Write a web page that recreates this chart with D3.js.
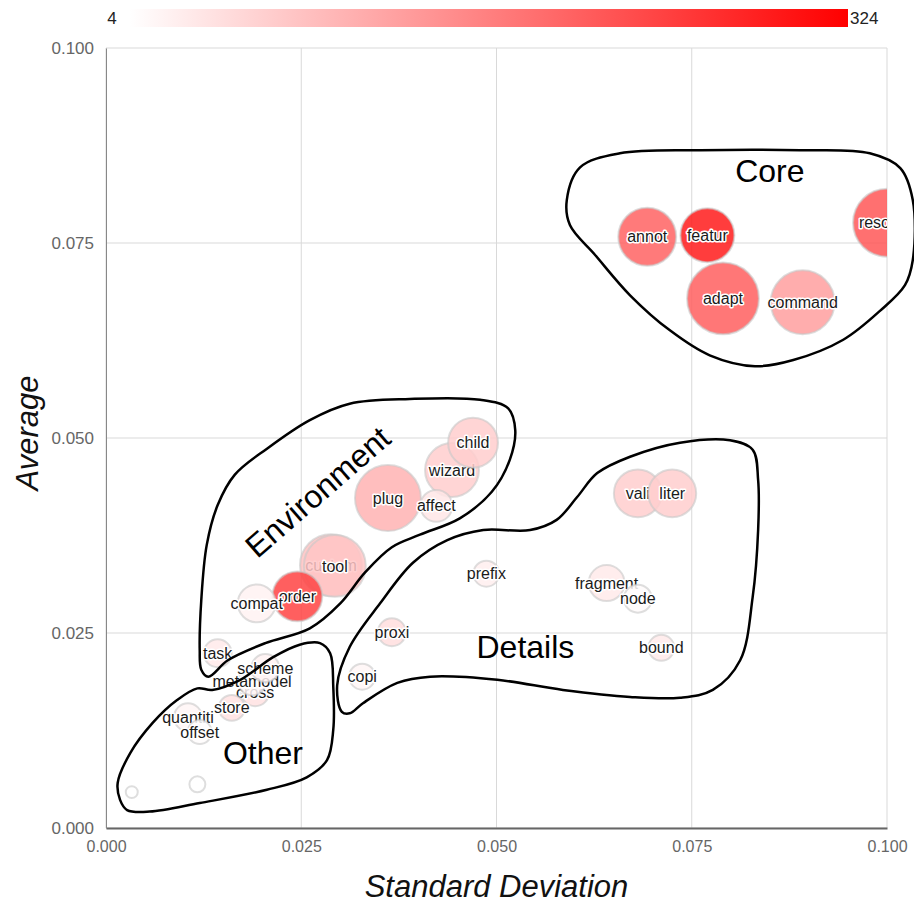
<!DOCTYPE html>
<html><head><meta charset="utf-8">
<script src="https://cdn.jsdelivr.net/npm/d3@7"></script>
<style>body{margin:0;background:#fff}svg{display:block;font-family:"Liberation Sans",Arial,sans-serif}</style>
</head><body><svg id="c" width="914" height="903"></svg>
<script>
// ---- data ----
const labels   = ["reso","annot","featur","adapt","command","wizard","child","plug","affect","custom","tool","order","compat","prefix","proxi","vali","liter","fragment","node","bound","copi","task","cross","metamodel","scheme","store","quantiti","offset","",""];
const stdDev   = [0.1000,0.0693,0.0770,0.0790,0.0892,0.0443,0.0470,0.0361,0.0423,0.0288,0.0293,0.0245,0.0193,0.0487,0.0366,0.0681,0.0725,0.0641,0.0681,0.0711,0.0328,0.0143,0.0191,0.0187,0.0204,0.0161,0.0105,0.0120,0.0117,0.0033];
const average  = [0.0776,0.0758,0.0760,0.0679,0.0674,0.0459,0.0494,0.0423,0.0413,0.0337,0.0336,0.0297,0.0288,0.0326,0.0251,0.0429,0.0429,0.0314,0.0294,0.0231,0.0194,0.0224,0.0174,0.0188,0.0205,0.0154,0.0142,0.0123,0.0056,0.0046];
const counts   = [215,200,290,205,125,65,65,100,35,80,75,240,20,25,45,65,65,30,8,30,15,30,40,15,20,40,15,6,4,4];
const sizes    = [1156,841,729,1296,1024,729,625,1089,256,961,961,625,361,169,196,576,576,324,196,169,169,196,196,196,196,169,196,144,64,36];
const xTicks   = [0,0.025,0.05,0.075,0.1];
const yTicks   = [0,0.025,0.05,0.075,0.1];
const colorDomain = [4,324];

const groupNames = ["Core","Environment","Details","Other"];
const groupLabelPos = [[0.0850,0.0842],[0.0271,0.0431],[0.0537,0.0232],[0.0201,0.0097]];
const coreOutline = [[0.0590,0.0805],[0.0607,0.0847],[0.0658,0.0865],[0.0761,0.0869],[0.0889,0.0869],[0.0978,0.0865],[0.1017,0.0846],[0.1033,0.0805],[0.1033,0.0728],[0.1023,0.0696],[0.0991,0.0663],[0.0944,0.0626],[0.0880,0.0600],[0.0831,0.0592],[0.0773,0.0606],[0.0722,0.0638],[0.0671,0.0683],[0.0626,0.0735],[0.0594,0.0773]];
const envOutline = [[0.0120,0.0228],[0.0122,0.0292],[0.0129,0.0363],[0.0143,0.0414],[0.0165,0.0453],[0.0207,0.0487],[0.0261,0.0523],[0.0312,0.0544],[0.0389,0.0550],[0.0479,0.0549],[0.0515,0.0538],[0.0524,0.0510],[0.0517,0.0472],[0.0494,0.0431],[0.0453,0.0397],[0.0402,0.0376],[0.0366,0.0360],[0.0332,0.0328],[0.0300,0.0288],[0.0261,0.0256],[0.0204,0.0237],[0.0156,0.0215],[0.0131,0.0194],[0.0122,0.0203]];
const detOutline = [[0.0302,0.0149],[0.0296,0.0183],[0.0312,0.0232],[0.0351,0.0288],[0.0393,0.0340],[0.0437,0.0369],[0.0483,0.0382],[0.0543,0.0382],[0.0577,0.0395],[0.0603,0.0424],[0.0629,0.0455],[0.0671,0.0476],[0.0735,0.0494],[0.0799,0.0497],[0.0828,0.0485],[0.0835,0.0446],[0.0835,0.0382],[0.0828,0.0296],[0.0812,0.0215],[0.0777,0.0177],[0.0735,0.0167],[0.0671,0.0168],[0.0585,0.0177],[0.0501,0.0190],[0.0415,0.0194],[0.0373,0.0186],[0.0329,0.0160],[0.0312,0.0147]];
const othOutline = [[0.0018,0.0036],[0.0015,0.0058],[0.0031,0.0096],[0.0060,0.0135],[0.0091,0.0164],[0.0117,0.0179],[0.0136,0.0177],[0.0172,0.0190],[0.0214,0.0219],[0.0248,0.0235],[0.0274,0.0237],[0.0287,0.0224],[0.0291,0.0181],[0.0291,0.0126],[0.0283,0.0087],[0.0257,0.0065],[0.0206,0.0049],[0.0120,0.0032],[0.0056,0.0021],[0.0027,0.0023]];
const outlines = [coreOutline, envOutline, detOutline, othOutline];

// ---- layout ----
const svg = d3.select("#c");
const M = {l:106, r:887, t:48, b:828};
const x = d3.scaleLinear().domain([0,0.1]).range([M.l, M.r]);
const y = d3.scaleLinear().domain([0,0.1]).range([M.b, M.t]);
const r = d3.scaleSqrt().domain([0,1300]).range([0,36]);
const color = d3.scaleLinear().domain(colorDomain).range(["#ffffff","#ff0000"]);

// colorbar
const defs = svg.append("defs");
const grad = defs.append("linearGradient").attr("id","cb");
grad.append("stop").attr("offset","0%").attr("stop-color",color(colorDomain[0]));
grad.append("stop").attr("offset","100%").attr("stop-color",color(colorDomain[1]));
svg.append("rect").attr("x",130).attr("y",9).attr("width",718).attr("height",18).attr("fill","url(#cb)");
svg.append("text").attr("x",112).attr("y",24).attr("text-anchor","middle").attr("font-size",17).attr("fill","#222").text(colorDomain[0]);
svg.append("text").attr("x",850).attr("y",24).attr("font-size",17).attr("fill","#222").text(colorDomain[1]);

defs.append("clipPath").attr("id","plot").append("rect").attr("x",M.l).attr("y",M.t-40).attr("width",M.r-M.l).attr("height",M.b-M.t+40);

// grid
const g = svg.append("g");
g.selectAll(".gx").data(xTicks).join("line").attr("x1",d=>x(d)).attr("x2",d=>x(d)).attr("y1",M.t).attr("y2",M.b).attr("stroke","#d9d9d9");
g.selectAll(".gy").data(yTicks).join("line").attr("x1",M.l).attr("x2",M.r).attr("y1",d=>y(d)).attr("y2",d=>y(d)).attr("stroke","#d9d9d9");

// axes
const fmt = d3.format(".3f");
const xa = svg.append("g").attr("transform",`translate(0,${M.b})`).call(d3.axisBottom(x).tickValues(xTicks).tickFormat(fmt).tickSize(0).tickPadding(13));
const ya = svg.append("g").attr("transform",`translate(${M.l},0)`).call(d3.axisLeft(y).tickValues(yTicks).tickFormat(fmt).tickSize(0).tickPadding(12));
xa.selectAll("text").attr("font-size",16).attr("fill","#666").attr("font-family","'Liberation Sans',Arial,sans-serif");
ya.selectAll("text").attr("font-size",17).attr("fill","#666").attr("font-family","'Liberation Sans',Arial,sans-serif");
xa.select(".domain").attr("stroke","#666").attr("stroke-width",2);
ya.select(".domain").attr("stroke","#888").attr("stroke-width",1);

svg.append("text").attr("x",(M.l+M.r)/2).attr("y",897).attr("text-anchor","middle").attr("font-size",31).attr("font-style","italic").attr("fill","#111").text("Standard Deviation");
svg.append("text").attr("transform",`translate(38,${(M.t+M.b)/2 - 5}) rotate(-90)`).attr("text-anchor","middle").attr("font-size",31).attr("font-style","italic").attr("fill","#111").text("Average");

// bubbles
const data = labels.map((l,i)=>({label:l, sd:stdDev[i], avg:average[i], c:counts[i], s:sizes[i]}));
const bub = svg.append("g").attr("clip-path","url(#plot)");
const nodes = bub.selectAll("g.n").data(data).join("g").attr("transform",d=>`translate(${x(d.sd)},${y(d.avg)})`);
nodes.append("circle").attr("r",d=>r(d.s)).attr("fill",d=>color(d.c)).attr("fill-opacity",0.85)
  .attr("stroke","#c8c8c8").attr("stroke-opacity",0.6).attr("stroke-width",2);
nodes.filter(d=>d.label).append("text").attr("text-anchor","middle").attr("dy","0.35em").attr("font-size",16)
  .attr("fill","#1a1a1a").attr("stroke","#fff").attr("stroke-width",3).attr("stroke-linejoin","round").attr("paint-order","stroke")
  .text(d=>d.label)
  .each(function(d){
    // keep label inside the plot's right edge
    const w = this.getComputedTextLength();
    const cx = x(d.sd);
    const lim = M.r - w/2 + 3;
    if (cx > lim) d3.select(this).attr("x", lim - cx);
  });

// group outlines
const line = d3.line().x(d=>x(d[0])).y(d=>y(d[1])).curve(d3.curveCatmullRomClosed.alpha(0.5));
svg.append("g").selectAll("path").data(outlines).join("path").attr("d",line).attr("fill","none").attr("stroke","#000").attr("stroke-width",2.5);
svg.append("g").selectAll("text").data(groupNames).join("text")
  .attr("transform",(d,i)=>`translate(${x(groupLabelPos[i][0])},${y(groupLabelPos[i][1])}) rotate(${d==="Environment"?-41:0})`)
  .attr("text-anchor","middle").attr("dy","0.35em").attr("font-size",32).attr("fill","#000").text(d=>d);
</script></body></html>
